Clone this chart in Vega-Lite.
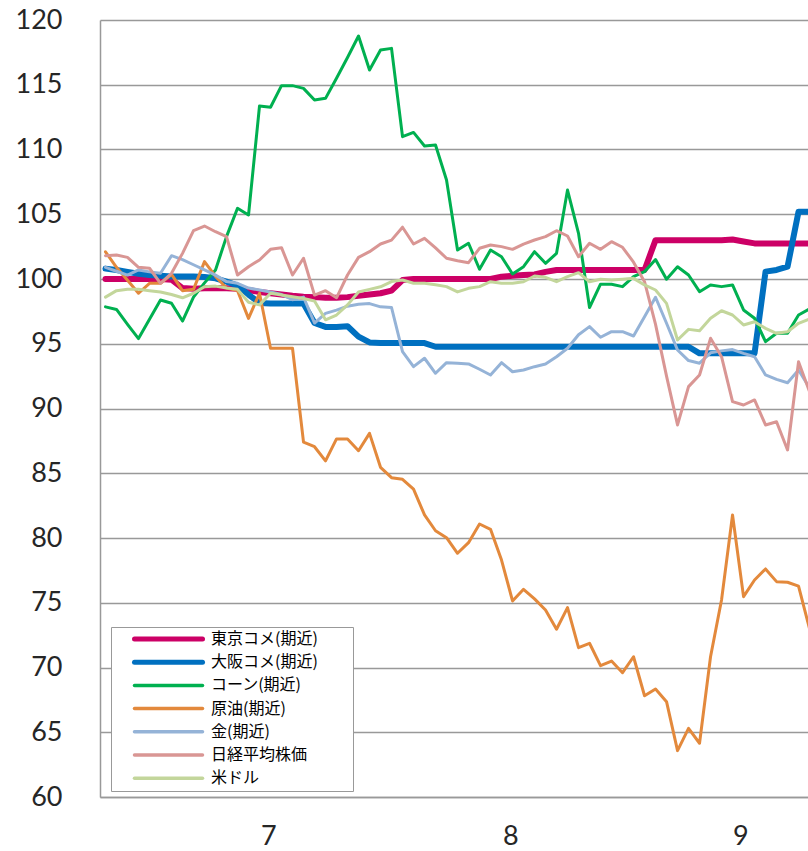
{
"$schema": "https://vega.github.io/schema/vega-lite/v6.json",
"width": 708, "height": 777,
"autosize": {"type": "none"},
"padding": {"left": 100, "top": 20, "right": 0, "bottom": 54},
"background": "white",
"config": {"view": {"stroke": null}},
"data": {"values": [
{"s":"東京コメ(期近)","i":0,"v":100},{"s":"東京コメ(期近)","i":1,"v":100},{"s":"東京コメ(期近)","i":2,"v":100},{"s":"東京コメ(期近)","i":3,"v":100},{"s":"東京コメ(期近)","i":4,"v":100},{"s":"東京コメ(期近)","i":5,"v":100},{"s":"東京コメ(期近)","i":6,"v":99.95},{"s":"東京コメ(期近)","i":7,"v":99.3},{"s":"東京コメ(期近)","i":8,"v":99.25},{"s":"東京コメ(期近)","i":9,"v":99.28},{"s":"東京コメ(期近)","i":10,"v":99.28},{"s":"東京コメ(期近)","i":11,"v":99.28},{"s":"東京コメ(期近)","i":12,"v":99.25},{"s":"東京コメ(期近)","i":13,"v":99.15},{"s":"東京コメ(期近)","i":14,"v":99},{"s":"東京コメ(期近)","i":15,"v":98.9},{"s":"東京コメ(期近)","i":16,"v":98.8},{"s":"東京コメ(期近)","i":17,"v":98.7},{"s":"東京コメ(期近)","i":18,"v":98.63},{"s":"東京コメ(期近)","i":19,"v":98.6},{"s":"東京コメ(期近)","i":20,"v":98.55},{"s":"東京コメ(期近)","i":21,"v":98.55},{"s":"東京コメ(期近)","i":22,"v":98.6},{"s":"東京コメ(期近)","i":23,"v":98.7},{"s":"東京コメ(期近)","i":24,"v":98.8},{"s":"東京コメ(期近)","i":25,"v":98.9},{"s":"東京コメ(期近)","i":26,"v":99.1},{"s":"東京コメ(期近)","i":27,"v":99.92},{"s":"東京コメ(期近)","i":28,"v":100},{"s":"東京コメ(期近)","i":29,"v":100},{"s":"東京コメ(期近)","i":30,"v":100},{"s":"東京コメ(期近)","i":31,"v":100},{"s":"東京コメ(期近)","i":32,"v":100},{"s":"東京コメ(期近)","i":33,"v":100},{"s":"東京コメ(期近)","i":34,"v":100},{"s":"東京コメ(期近)","i":35,"v":100},{"s":"東京コメ(期近)","i":36,"v":100.18},{"s":"東京コメ(期近)","i":37,"v":100.25},{"s":"東京コメ(期近)","i":38,"v":100.3},{"s":"東京コメ(期近)","i":39,"v":100.35},{"s":"東京コメ(期近)","i":40,"v":100.55},{"s":"東京コメ(期近)","i":41,"v":100.7},{"s":"東京コメ(期近)","i":42,"v":100.7},{"s":"東京コメ(期近)","i":43,"v":100.7},{"s":"東京コメ(期近)","i":44,"v":100.7},{"s":"東京コメ(期近)","i":45,"v":100.7},{"s":"東京コメ(期近)","i":46,"v":100.7},{"s":"東京コメ(期近)","i":47,"v":100.7},{"s":"東京コメ(期近)","i":48,"v":100.7},{"s":"東京コメ(期近)","i":49,"v":100.7},{"s":"東京コメ(期近)","i":50,"v":103},{"s":"東京コメ(期近)","i":51,"v":103},{"s":"東京コメ(期近)","i":52,"v":103},{"s":"東京コメ(期近)","i":53,"v":103},{"s":"東京コメ(期近)","i":54,"v":103},{"s":"東京コメ(期近)","i":55,"v":103},{"s":"東京コメ(期近)","i":56,"v":103},{"s":"東京コメ(期近)","i":57,"v":103.05},{"s":"東京コメ(期近)","i":58,"v":102.9},{"s":"東京コメ(期近)","i":59,"v":102.75},{"s":"東京コメ(期近)","i":60,"v":102.75},{"s":"東京コメ(期近)","i":61,"v":102.75},{"s":"東京コメ(期近)","i":62,"v":102.75},{"s":"東京コメ(期近)","i":63,"v":102.75},{"s":"東京コメ(期近)","i":64,"v":102.75},
{"s":"大阪コメ(期近)","i":0,"v":100.8},{"s":"大阪コメ(期近)","i":1,"v":100.7},{"s":"大阪コメ(期近)","i":2,"v":100.55},{"s":"大阪コメ(期近)","i":3,"v":100.4},{"s":"大阪コメ(期近)","i":4,"v":100.3},{"s":"大阪コメ(期近)","i":5,"v":100.25},{"s":"大阪コメ(期近)","i":6,"v":100.2},{"s":"大阪コメ(期近)","i":7,"v":100.2},{"s":"大阪コメ(期近)","i":8,"v":100.2},{"s":"大阪コメ(期近)","i":9,"v":100.15},{"s":"大阪コメ(期近)","i":10,"v":100.05},{"s":"大阪コメ(期近)","i":11,"v":99.8},{"s":"大阪コメ(期近)","i":12,"v":99.5},{"s":"大阪コメ(期近)","i":13,"v":98.8},{"s":"大阪コメ(期近)","i":14,"v":98.15},{"s":"大阪コメ(期近)","i":15,"v":98.1},{"s":"大阪コメ(期近)","i":16,"v":98.1},{"s":"大阪コメ(期近)","i":17,"v":98.1},{"s":"大阪コメ(期近)","i":18,"v":98.1},{"s":"大阪コメ(期近)","i":19,"v":96.6},{"s":"大阪コメ(期近)","i":20,"v":96.3},{"s":"大阪コメ(期近)","i":21,"v":96.3},{"s":"大阪コメ(期近)","i":22,"v":96.35},{"s":"大阪コメ(期近)","i":23,"v":95.55},{"s":"大阪コメ(期近)","i":24,"v":95.1},{"s":"大阪コメ(期近)","i":25,"v":95.05},{"s":"大阪コメ(期近)","i":26,"v":95.05},{"s":"大阪コメ(期近)","i":27,"v":95.05},{"s":"大阪コメ(期近)","i":28,"v":95.05},{"s":"大阪コメ(期近)","i":29,"v":95.05},{"s":"大阪コメ(期近)","i":30,"v":94.77},{"s":"大阪コメ(期近)","i":31,"v":94.77},{"s":"大阪コメ(期近)","i":32,"v":94.77},{"s":"大阪コメ(期近)","i":33,"v":94.77},{"s":"大阪コメ(期近)","i":34,"v":94.77},{"s":"大阪コメ(期近)","i":35,"v":94.77},{"s":"大阪コメ(期近)","i":36,"v":94.77},{"s":"大阪コメ(期近)","i":37,"v":94.77},{"s":"大阪コメ(期近)","i":38,"v":94.77},{"s":"大阪コメ(期近)","i":39,"v":94.77},{"s":"大阪コメ(期近)","i":40,"v":94.77},{"s":"大阪コメ(期近)","i":41,"v":94.77},{"s":"大阪コメ(期近)","i":42,"v":94.77},{"s":"大阪コメ(期近)","i":43,"v":94.77},{"s":"大阪コメ(期近)","i":44,"v":94.77},{"s":"大阪コメ(期近)","i":45,"v":94.77},{"s":"大阪コメ(期近)","i":46,"v":94.77},{"s":"大阪コメ(期近)","i":47,"v":94.77},{"s":"大阪コメ(期近)","i":48,"v":94.77},{"s":"大阪コメ(期近)","i":49,"v":94.77},{"s":"大阪コメ(期近)","i":50,"v":94.77},{"s":"大阪コメ(期近)","i":51,"v":94.77},{"s":"大阪コメ(期近)","i":52,"v":94.77},{"s":"大阪コメ(期近)","i":53,"v":94.77},{"s":"大阪コメ(期近)","i":54,"v":94.26},{"s":"大阪コメ(期近)","i":55,"v":94.26},{"s":"大阪コメ(期近)","i":56,"v":94.26},{"s":"大阪コメ(期近)","i":57,"v":94.26},{"s":"大阪コメ(期近)","i":58,"v":94.26},{"s":"大阪コメ(期近)","i":59,"v":94.26},{"s":"大阪コメ(期近)","i":60,"v":100.57},{"s":"大阪コメ(期近)","i":61,"v":100.7},{"s":"大阪コメ(期近)","i":62,"v":100.95},{"s":"大阪コメ(期近)","i":63,"v":105.2},{"s":"大阪コメ(期近)","i":64,"v":105.2},
{"s":"コーン(期近)","i":0,"v":97.85},{"s":"コーン(期近)","i":1,"v":97.65},{"s":"コーン(期近)","i":2,"v":96.5},{"s":"コーン(期近)","i":3,"v":95.4},{"s":"コーン(期近)","i":4,"v":96.9},{"s":"コーン(期近)","i":5,"v":98.38},{"s":"コーン(期近)","i":6,"v":98.13},{"s":"コーン(期近)","i":7,"v":96.75},{"s":"コーン(期近)","i":8,"v":98.6},{"s":"コーン(期近)","i":9,"v":99.7},{"s":"コーン(期近)","i":10,"v":100.7},{"s":"コーン(期近)","i":11,"v":103.27},{"s":"コーン(期近)","i":12,"v":105.46},{"s":"コーン(期近)","i":13,"v":104.94},{"s":"コーン(期近)","i":14,"v":113.36},{"s":"コーン(期近)","i":15,"v":113.26},{"s":"コーン(期近)","i":16,"v":114.93},{"s":"コーン(期近)","i":17,"v":114.93},{"s":"コーン(期近)","i":18,"v":114.72},{"s":"コーン(期近)","i":19,"v":113.82},{"s":"コーン(期近)","i":20,"v":113.95},{"s":"コーン(期近)","i":21,"v":115.5},{"s":"コーン(期近)","i":22,"v":117.1},{"s":"コーン(期近)","i":23,"v":118.76},{"s":"コーン(期近)","i":24,"v":116.14},{"s":"コーン(期近)","i":25,"v":117.68},{"s":"コーン(期近)","i":26,"v":117.81},{"s":"コーン(期近)","i":27,"v":110.99},{"s":"コーン(期近)","i":28,"v":111.32},{"s":"コーン(期近)","i":29,"v":110.27},{"s":"コーン(期近)","i":30,"v":110.35},{"s":"コーン(期近)","i":31,"v":107.64},{"s":"コーン(期近)","i":32,"v":102.24},{"s":"コーン(期近)","i":33,"v":102.76},{"s":"コーン(期近)","i":34,"v":100.75},{"s":"コーン(期近)","i":35,"v":102.24},{"s":"コーン(期近)","i":36,"v":101.72},{"s":"コーン(期近)","i":37,"v":100.39},{"s":"コーン(期近)","i":38,"v":100.95},{"s":"コーン(期近)","i":39,"v":102.11},{"s":"コーン(期近)","i":40,"v":101.21},{"s":"コーン(期近)","i":41,"v":101.98},{"s":"コーン(期近)","i":42,"v":106.87},{"s":"コーン(期近)","i":43,"v":103.53},{"s":"コーン(期近)","i":44,"v":97.8},{"s":"コーン(期近)","i":45,"v":99.6},{"s":"コーン(期近)","i":46,"v":99.6},{"s":"コーン(期近)","i":47,"v":99.41},{"s":"コーン(期近)","i":48,"v":100.18},{"s":"コーン(期近)","i":49,"v":100.57},{"s":"コーン(期近)","i":50,"v":101.5},{"s":"コーン(期近)","i":51,"v":99.98},{"s":"コーン(期近)","i":52,"v":100.95},{"s":"コーン(期近)","i":53,"v":100.31},{"s":"コーン(期近)","i":54,"v":99.02},{"s":"コーン(期近)","i":55,"v":99.54},{"s":"コーン(期近)","i":56,"v":99.41},{"s":"コーン(期近)","i":57,"v":99.54},{"s":"コーン(期近)","i":58,"v":97.61},{"s":"コーン(期近)","i":59,"v":96.97},{"s":"コーン(期近)","i":60,"v":95.16},{"s":"コーン(期近)","i":61,"v":95.81},{"s":"コーン(期近)","i":62,"v":95.81},{"s":"コーン(期近)","i":63,"v":97.22},{"s":"コーン(期近)","i":64,"v":97.7},
{"s":"原油(期近)","i":0,"v":102.1},{"s":"原油(期近)","i":1,"v":100.9},{"s":"原油(期近)","i":2,"v":99.9},{"s":"原油(期近)","i":3,"v":98.9},{"s":"原油(期近)","i":4,"v":99.67},{"s":"原油(期近)","i":5,"v":99.67},{"s":"原油(期近)","i":6,"v":100.35},{"s":"原油(期近)","i":7,"v":99.1},{"s":"原油(期近)","i":8,"v":99.2},{"s":"原油(期近)","i":9,"v":101.34},{"s":"原油(期近)","i":10,"v":100.2},{"s":"原油(期近)","i":11,"v":99.3},{"s":"原油(期近)","i":12,"v":99.1},{"s":"原油(期近)","i":13,"v":96.96},{"s":"原油(期近)","i":14,"v":98.9},{"s":"原油(期近)","i":15,"v":94.65},{"s":"原油(期近)","i":16,"v":94.65},{"s":"原油(期近)","i":17,"v":94.65},{"s":"原油(期近)","i":18,"v":87.4},{"s":"原油(期近)","i":19,"v":87.05},{"s":"原油(期近)","i":20,"v":85.96},{"s":"原油(期近)","i":21,"v":87.65},{"s":"原油(期近)","i":22,"v":87.65},{"s":"原油(期近)","i":23,"v":86.74},{"s":"原油(期近)","i":24,"v":88.08},{"s":"原油(期近)","i":25,"v":85.46},{"s":"原油(期近)","i":26,"v":84.66},{"s":"原油(期近)","i":27,"v":84.53},{"s":"原油(期近)","i":28,"v":83.78},{"s":"原油(期近)","i":29,"v":81.78},{"s":"原油(期近)","i":30,"v":80.56},{"s":"原油(期近)","i":31,"v":80.02},{"s":"原油(期近)","i":32,"v":78.82},{"s":"原油(期近)","i":33,"v":79.64},{"s":"原油(期近)","i":34,"v":81.08},{"s":"原油(期近)","i":35,"v":80.67},{"s":"原油(期近)","i":36,"v":78.3},{"s":"原油(期近)","i":37,"v":75.14},{"s":"原油(期近)","i":38,"v":76.04},{"s":"原油(期近)","i":39,"v":75.3},{"s":"原油(期近)","i":40,"v":74.44},{"s":"原油(期近)","i":41,"v":72.95},{"s":"原油(期近)","i":42,"v":74.62},{"s":"原油(期近)","i":43,"v":71.53},{"s":"原油(期近)","i":44,"v":71.87},{"s":"原油(期近)","i":45,"v":70.14},{"s":"原油(期近)","i":46,"v":70.5},{"s":"原油(期近)","i":47,"v":69.6},{"s":"原油(期近)","i":48,"v":70.83},{"s":"原油(期近)","i":49,"v":67.82},{"s":"原油(期近)","i":50,"v":68.34},{"s":"原油(期近)","i":51,"v":67.36},{"s":"原油(期近)","i":52,"v":63.58},{"s":"原油(期近)","i":53,"v":65.3},{"s":"原油(期近)","i":54,"v":64.15},{"s":"原油(期近)","i":55,"v":70.83},{"s":"原油(期近)","i":56,"v":75.21},{"s":"原油(期近)","i":57,"v":81.78},{"s":"原油(期近)","i":58,"v":75.47},{"s":"原油(期近)","i":59,"v":76.76},{"s":"原油(期近)","i":60,"v":77.61},{"s":"原油(期近)","i":61,"v":76.63},{"s":"原油(期近)","i":62,"v":76.58},{"s":"原油(期近)","i":63,"v":76.29},{"s":"原油(期近)","i":64,"v":73.0},
{"s":"金(期近)","i":0,"v":100.9},{"s":"金(期近)","i":1,"v":100.6},{"s":"金(期近)","i":2,"v":100.3},{"s":"金(期近)","i":3,"v":100.7},{"s":"金(期近)","i":4,"v":100.55},{"s":"金(期近)","i":5,"v":100.44},{"s":"金(期近)","i":6,"v":101.8},{"s":"金(期近)","i":7,"v":101.5},{"s":"金(期近)","i":8,"v":101.1},{"s":"金(期近)","i":9,"v":100.7},{"s":"金(期近)","i":10,"v":100.3},{"s":"金(期近)","i":11,"v":99.8},{"s":"金(期近)","i":12,"v":99.67},{"s":"金(期近)","i":13,"v":99.3},{"s":"金(期近)","i":14,"v":99.15},{"s":"金(期近)","i":15,"v":99.0},{"s":"金(期近)","i":16,"v":98.8},{"s":"金(期近)","i":17,"v":98.4},{"s":"金(期近)","i":18,"v":98.6},{"s":"金(期近)","i":19,"v":96.6},{"s":"金(期近)","i":20,"v":97.35},{"s":"金(期近)","i":21,"v":97.6},{"s":"金(期近)","i":22,"v":97.9},{"s":"金(期近)","i":23,"v":98.05},{"s":"金(期近)","i":24,"v":98.1},{"s":"金(期近)","i":25,"v":97.85},{"s":"金(期近)","i":26,"v":97.8},{"s":"金(期近)","i":27,"v":94.4},{"s":"金(期近)","i":28,"v":93.23},{"s":"金(期近)","i":29,"v":93.88},{"s":"金(期近)","i":30,"v":92.72},{"s":"金(期近)","i":31,"v":93.54},{"s":"金(期近)","i":32,"v":93.49},{"s":"金(期近)","i":33,"v":93.44},{"s":"金(期近)","i":34,"v":93.03},{"s":"金(期近)","i":35,"v":92.59},{"s":"金(期近)","i":36,"v":93.54},{"s":"金(期近)","i":37,"v":92.84},{"s":"金(期近)","i":38,"v":92.97},{"s":"金(期近)","i":39,"v":93.23},{"s":"金(期近)","i":40,"v":93.44},{"s":"金(期近)","i":41,"v":94.0},{"s":"金(期近)","i":42,"v":94.65},{"s":"金(期近)","i":43,"v":95.7},{"s":"金(期近)","i":44,"v":96.32},{"s":"金(期近)","i":45,"v":95.5},{"s":"金(期近)","i":46,"v":95.93},{"s":"金(期近)","i":47,"v":95.93},{"s":"金(期近)","i":48,"v":95.6},{"s":"金(期近)","i":49,"v":97.09},{"s":"金(期近)","i":50,"v":98.59},{"s":"金(期近)","i":51,"v":96.58},{"s":"金(期近)","i":52,"v":94.52},{"s":"金(期近)","i":53,"v":93.7},{"s":"金(期近)","i":54,"v":93.5},{"s":"金(期近)","i":55,"v":94.3},{"s":"金(期近)","i":56,"v":94.45},{"s":"金(期近)","i":57,"v":94.55},{"s":"金(期近)","i":58,"v":94.26},{"s":"金(期近)","i":59,"v":94.0},{"s":"金(期近)","i":60,"v":92.59},{"s":"金(期近)","i":61,"v":92.25},{"s":"金(期近)","i":62,"v":91.99},{"s":"金(期近)","i":63,"v":92.97},{"s":"金(期近)","i":64,"v":91.6},
{"s":"日経平均株価","i":0,"v":101.8},{"s":"日経平均株価","i":1,"v":101.85},{"s":"日経平均株価","i":2,"v":101.67},{"s":"日経平均株価","i":3,"v":100.9},{"s":"日経平均株価","i":4,"v":100.83},{"s":"日経平均株価","i":5,"v":99.67},{"s":"日経平均株価","i":6,"v":100.44},{"s":"日経平均株価","i":7,"v":101.98},{"s":"日経平均株価","i":8,"v":103.73},{"s":"日経平均株価","i":9,"v":104.09},{"s":"日経平均株価","i":10,"v":103.65},{"s":"日経平均株価","i":11,"v":103.27},{"s":"日経平均株価","i":12,"v":100.31},{"s":"日経平均株価","i":13,"v":100.95},{"s":"日経平均株価","i":14,"v":101.47},{"s":"日経平均株価","i":15,"v":102.29},{"s":"日経平均株価","i":16,"v":102.42},{"s":"日経平均株価","i":17,"v":100.31},{"s":"日経平均株価","i":18,"v":101.6},{"s":"日経平均株価","i":19,"v":98.76},{"s":"日経平均株価","i":20,"v":99.1},{"s":"日経平均株価","i":21,"v":98.55},{"s":"日経平均株価","i":22,"v":100.31},{"s":"日経平均株価","i":23,"v":101.67},{"s":"日経平均株価","i":24,"v":102.11},{"s":"日経平均株価","i":25,"v":102.7},{"s":"日経平均株価","i":26,"v":103.0},{"s":"日経平均株価","i":27,"v":104.0},{"s":"日経平均株価","i":28,"v":102.7},{"s":"日経平均株価","i":29,"v":103.14},{"s":"日経平均株価","i":30,"v":102.4},{"s":"日経平均株価","i":31,"v":101.6},{"s":"日経平均株価","i":32,"v":101.41},{"s":"日経平均株価","i":33,"v":101.26},{"s":"日経平均株価","i":34,"v":102.37},{"s":"日経平均株価","i":35,"v":102.63},{"s":"日経平均株価","i":36,"v":102.5},{"s":"日経平均株価","i":37,"v":102.29},{"s":"日経平均株価","i":38,"v":102.7},{"s":"日経平均株価","i":39,"v":103.01},{"s":"日経平均株価","i":40,"v":103.27},{"s":"日経平均株価","i":41,"v":103.73},{"s":"日経平均株価","i":42,"v":103.32},{"s":"日経平均株価","i":43,"v":101.72},{"s":"日経平均株価","i":44,"v":102.76},{"s":"日経平均株価","i":45,"v":102.29},{"s":"日経平均株価","i":46,"v":102.88},{"s":"日経平均株価","i":47,"v":102.45},{"s":"日経平均株価","i":48,"v":101.3},{"s":"日経平均株価","i":49,"v":99.79},{"s":"日経平均株価","i":50,"v":96.5},{"s":"日経平均株価","i":51,"v":92.5},{"s":"日経平均株価","i":52,"v":88.73},{"s":"日経平均株価","i":53,"v":91.69},{"s":"日経平均株価","i":54,"v":92.59},{"s":"日経平均株価","i":55,"v":95.42},{"s":"日経平均株価","i":56,"v":94.0},{"s":"日経平均株価","i":57,"v":90.53},{"s":"日経平均株価","i":58,"v":90.27},{"s":"日経平均株価","i":59,"v":90.66},{"s":"日経平均株価","i":60,"v":88.73},{"s":"日経平均株価","i":61,"v":88.98},{"s":"日経平均株価","i":62,"v":86.8},{"s":"日経平均株価","i":63,"v":93.61},{"s":"日経平均株価","i":64,"v":91.3},
{"s":"米ドル","i":0,"v":98.6},{"s":"米ドル","i":1,"v":99.1},{"s":"米ドル","i":2,"v":99.2},{"s":"米ドル","i":3,"v":99.2},{"s":"米ドル","i":4,"v":99.1},{"s":"米ドル","i":5,"v":99.0},{"s":"米ドル","i":6,"v":98.8},{"s":"米ドル","i":7,"v":98.55},{"s":"米ドル","i":8,"v":98.9},{"s":"米ドル","i":9,"v":99.4},{"s":"米ドル","i":10,"v":99.45},{"s":"米ドル","i":11,"v":99.3},{"s":"米ドル","i":12,"v":99.2},{"s":"米ドル","i":13,"v":98.2},{"s":"米ドル","i":14,"v":98.0},{"s":"米ドル","i":15,"v":98.9},{"s":"米ドル","i":16,"v":98.76},{"s":"米ドル","i":17,"v":98.63},{"s":"米ドル","i":18,"v":98.5},{"s":"米ドル","i":19,"v":98.3},{"s":"米ドル","i":20,"v":96.85},{"s":"米ドル","i":21,"v":97.22},{"s":"米ドル","i":22,"v":98.0},{"s":"米ドル","i":23,"v":99.0},{"s":"米ドル","i":24,"v":99.2},{"s":"米ドル","i":25,"v":99.4},{"s":"米ドル","i":26,"v":99.8},{"s":"米ドル","i":27,"v":99.92},{"s":"米ドル","i":28,"v":99.67},{"s":"米ドル","i":29,"v":99.67},{"s":"米ドル","i":30,"v":99.55},{"s":"米ドル","i":31,"v":99.41},{"s":"米ドル","i":32,"v":99.0},{"s":"米ドル","i":33,"v":99.28},{"s":"米ドル","i":34,"v":99.41},{"s":"米ドル","i":35,"v":99.79},{"s":"米ドル","i":36,"v":99.67},{"s":"米ドル","i":37,"v":99.67},{"s":"米ドル","i":38,"v":99.79},{"s":"米ドル","i":39,"v":100.23},{"s":"米ドル","i":40,"v":100.13},{"s":"米ドル","i":41,"v":99.79},{"s":"米ドル","i":42,"v":100.18},{"s":"米ドル","i":43,"v":100.49},{"s":"米ドル","i":44,"v":99.79},{"s":"米ドル","i":45,"v":99.98},{"s":"米ドル","i":46,"v":99.92},{"s":"米ドル","i":47,"v":99.98},{"s":"米ドル","i":48,"v":100.05},{"s":"米ドル","i":49,"v":99.54},{"s":"米ドル","i":50,"v":99.15},{"s":"米ドル","i":51,"v":98.12},{"s":"米ドル","i":52,"v":95.29},{"s":"米ドル","i":53,"v":96.11},{"s":"米ドル","i":54,"v":96.0},{"s":"米ドル","i":55,"v":96.97},{"s":"米ドル","i":56,"v":97.55},{"s":"米ドル","i":57,"v":97.22},{"s":"米ドル","i":58,"v":96.45},{"s":"米ドル","i":59,"v":96.7},{"s":"米ドル","i":60,"v":96.19},{"s":"米ドル","i":61,"v":95.81},{"s":"米ドル","i":62,"v":95.93},{"s":"米ドル","i":63,"v":96.58},{"s":"米ドル","i":64,"v":96.9}
]},
"encoding": {
  "x": {"field": "i", "type": "quantitative",
    "scale": {"domain": [-0.5, 63.86], "nice": false, "zero": false},
    "axis": {"title": null, "values": [14.8, 36.8, 57.7],
      "labelExpr": "datum.value < 20 ? '7' : datum.value < 45 ? '8' : '9'",
      "grid": false, "ticks": false, "domainColor": "#999999", "domainWidth": 1.5,
      "labelFont": "Lato", "labelFontSize": 27, "labelColor": "#262626", "labelPadding": 26}},
  "y": {"field": "v", "type": "quantitative",
    "scale": {"domain": [60, 120], "nice": false, "zero": false},
    "axis": {"title": null, "values": [60, 65, 70, 75, 80, 85, 90, 95, 100, 105, 110, 115, 120],
      "grid": true, "gridColor": "#999999", "gridWidth": 1.5, "ticks": false,
      "domainColor": "#999999", "domainWidth": 1.5,
      "labelFont": "Lato", "labelFontSize": 27, "labelColor": "#262626", "labelPadding": 38}},
  "color": {"field": "s", "type": "nominal",
    "scale": {"domain": ["東京コメ(期近)", "大阪コメ(期近)", "コーン(期近)", "原油(期近)", "金(期近)", "日経平均株価", "米ドル"],
      "range": ["#CC0066", "#0070C0", "#00B050", "#E3893C", "#95B3D7", "#D99694", "#C3D69B"]},
    "legend": {"title": "\u3000", "titleOrient": "right", "titlePadding": 31, "titleFontSize": 16,
      "orient": "none", "legendX": 11, "legendY": 607,
      "symbolType": "stroke", "symbolSize": 4624, "clipHeight": 16,
      "symbolStrokeWidth": 4, "symbolOffset": 45.5,
      "labelFont": "Noto Sans CJK JP", "labelFontSize": 16, "labelColor": "#000000",
      "labelOffset": 34.5, "rowPadding": 7.2, "padding": 4,
      "strokeColor": "#999999", "fillColor": "white",
      "encode": {"symbols": {"update": {"strokeWidth": {"signal": "datum.value == '東京コメ(期近)' || datum.value == '大阪コメ(期近)' ? 5 : 3.5"}, "strokeCap": {"value": "round"}}}}}}
},
"layer": [
  {"transform": [{"filter": "datum.s == '東京コメ(期近)' || datum.s == '大阪コメ(期近)'"}],
   "mark": {"type": "line", "clip": true, "strokeJoin": "round", "strokeCap": "round", "strokeWidth": 6}},
  {"transform": [{"filter": "datum.s != '東京コメ(期近)' && datum.s != '大阪コメ(期近)'"}],
   "mark": {"type": "line", "clip": true, "strokeJoin": "round", "strokeCap": "round", "strokeWidth": 3}}
]
}
